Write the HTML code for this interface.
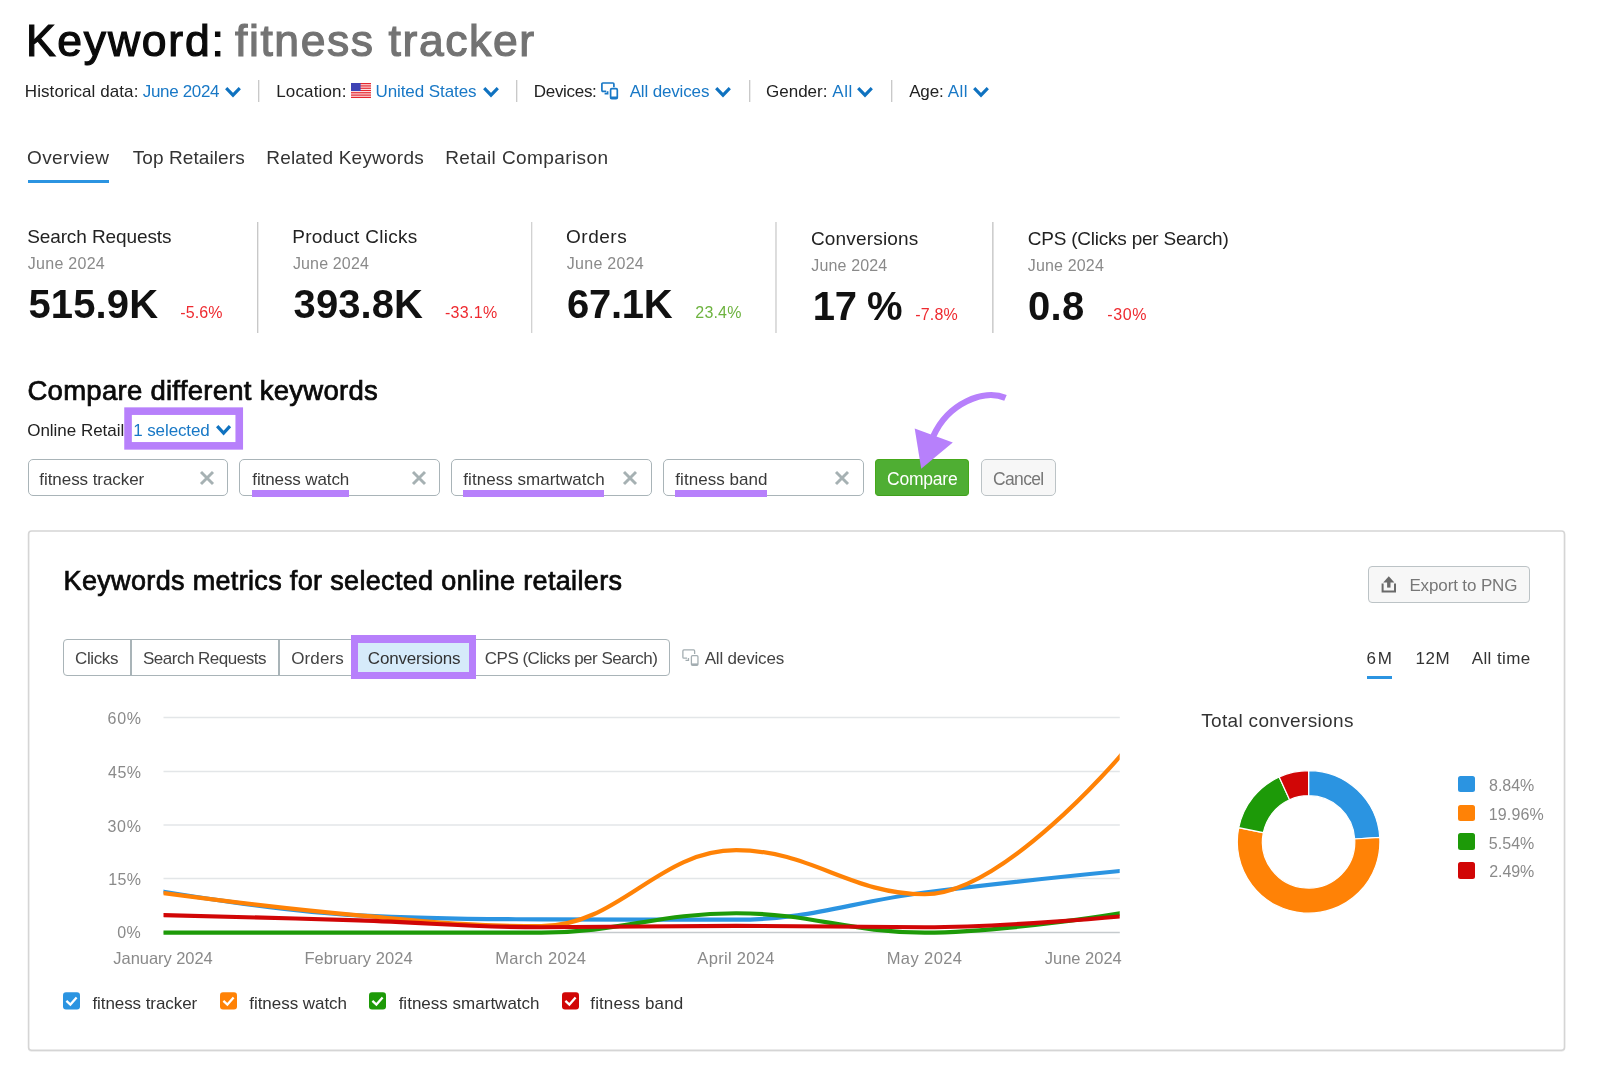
<!DOCTYPE html>
<html lang="en"><head><meta charset="utf-8"><title>Keyword: fitness tracker</title>
<style>
html,body{margin:0;padding:0;background:#fff;}
body{width:1600px;height:1078px;position:relative;overflow:hidden;font-family:"Liberation Sans",Arial,sans-serif;}
h1,h2,h3,label,a,span{margin:0;padding:0;font-weight:400;text-decoration:none;display:block;}
.t{position:absolute;white-space:nowrap;line-height:1;}
#root{position:absolute;left:0;top:0;width:1600px;height:1078px;will-change:transform;}
.b{position:absolute;box-sizing:border-box;}
.inp{position:absolute;box-sizing:border-box;border:1px solid #a9b4b8;border-radius:5px;background:#fff;height:37px;top:459px;}
.ul{position:absolute;background:#b780fb;height:7px;top:490px;}
svg{display:block;overflow:visible;}
</style></head><body>
<div id="root">
<header>
<h1><span class="t" id="t_kw" style="left:25.88px;top:19px;font-size:44.5px;-webkit-text-stroke:1.20px #0a0a0a;color:#0a0a0a;letter-spacing:1.779px">Keyword:</span>
<span class="t" id="t_ft" style="left:234.98px;top:19px;font-size:44.5px;-webkit-text-stroke:1.20px #737373;color:#737373;letter-spacing:1.583px">fitness tracker</span></h1>
<div class="filters">
<div class="b" style="left:258px;top:80px;width:2px;height:22px;background:linear-gradient(90deg,#c9c9c9 50%,#ececec 50%)"></div>
<div class="b" style="left:516px;top:80px;width:2px;height:22px;background:linear-gradient(90deg,#c9c9c9 50%,#ececec 50%)"></div>
<div class="b" style="left:749px;top:80px;width:2px;height:22px;background:linear-gradient(90deg,#c9c9c9 50%,#ececec 50%)"></div>
<div class="b" style="left:891px;top:80px;width:2px;height:22px;background:linear-gradient(90deg,#c9c9c9 50%,#ececec 50%)"></div>
<svg style="position:absolute;left:223.4px;top:85px" width="20" height="13.8" viewBox="-2 -2 20 13.8"><path d="M1.2 1.2 L8.0 8.200000000000001 L14.8 1.2" stroke="#0f72c0" stroke-width="3.1" fill="none" stroke-linejoin="miter"/></svg>
<svg style="position:absolute;left:480.6px;top:85px" width="20" height="13.8" viewBox="-2 -2 20 13.8"><path d="M1.2 1.2 L8.0 8.200000000000001 L14.8 1.2" stroke="#0f72c0" stroke-width="3.1" fill="none" stroke-linejoin="miter"/></svg>
<svg style="position:absolute;left:713.4px;top:85px" width="20" height="13.8" viewBox="-2 -2 20 13.8"><path d="M1.2 1.2 L8.0 8.200000000000001 L14.8 1.2" stroke="#0f72c0" stroke-width="3.1" fill="none" stroke-linejoin="miter"/></svg>
<svg style="position:absolute;left:855.4px;top:85px" width="20" height="13.8" viewBox="-2 -2 20 13.8"><path d="M1.2 1.2 L8.0 8.200000000000001 L14.8 1.2" stroke="#0f72c0" stroke-width="3.1" fill="none" stroke-linejoin="miter"/></svg>
<svg style="position:absolute;left:971.4px;top:85px" width="20" height="13.8" viewBox="-2 -2 20 13.8"><path d="M1.2 1.2 L8.0 8.200000000000001 L14.8 1.2" stroke="#0f72c0" stroke-width="3.1" fill="none" stroke-linejoin="miter"/></svg>
<svg style="position:absolute;left:351px;top:82.8px" width="20" height="15" viewBox="0 0 20 15"><rect width="20" height="15" fill="#fff"/><rect x="0" y="0.00" width="20" height="1.3" fill="#e6262f"/><rect x="0" y="2.29" width="20" height="1.3" fill="#e6262f"/><rect x="0" y="4.57" width="20" height="1.3" fill="#e6262f"/><rect x="0" y="6.86" width="20" height="1.3" fill="#e6262f"/><rect x="0" y="9.14" width="20" height="1.3" fill="#e6262f"/><rect x="0" y="11.43" width="20" height="1.3" fill="#e6262f"/><rect x="0" y="13.71" width="20" height="1.3" fill="#e6262f"/><rect x="0" y="0" width="9.6" height="8" fill="#3f43b5"/></svg>
<svg style="position:absolute;left:601.1px;top:82.3px" width="18.0" height="18.0" viewBox="0 0 18 18"><path d="M5.2 9.3 H1.9 Q0.9 9.3 0.9 8.3 V2 Q0.9 1 1.9 1 H11.9 Q12.9 1 12.9 2 V5.2" stroke="#1878c6" stroke-width="1.7" fill="none"/><path d="M3.6 11.6 H6.6 V9.3" stroke="#1878c6" stroke-width="1.7" fill="none"/><rect x="9.6" y="6.7" width="6.7" height="10" rx="1.2" stroke="#1878c6" stroke-width="1.7" fill="none"/><path d="M9.6 15.6 H16.3" stroke="#1878c6" stroke-width="2.2"/></svg>
<label class="t" id="f_hist" style="left:24.83px;top:83px;font-size:17px;color:#222;letter-spacing:0.073px">Historical data:</label>
<a class="t" id="f_june" style="left:142.73px;top:83px;font-size:17px;color:#1878c6;letter-spacing:-0.322px">June 2024</a>
<label class="t" id="f_loc" style="left:276.16px;top:83px;font-size:17px;color:#222;letter-spacing:0.156px">Location:</label>
<a class="t" id="f_us" style="left:375.45px;top:83px;font-size:17px;color:#1878c6;letter-spacing:-0.078px">United States</a>
<label class="t" id="f_dev" style="left:533.83px;top:83px;font-size:17px;color:#222;letter-spacing:-0.314px">Devices:</label>
<a class="t" id="f_alld" style="left:629.68px;top:83px;font-size:17px;color:#1878c6;letter-spacing:-0.155px">All devices</a>
<label class="t" id="f_gen" style="left:766.00px;top:83px;font-size:17px;color:#222;letter-spacing:0.000px">Gender:</label>
<a class="t" id="f_all1" style="left:832.22px;top:83px;font-size:17px;color:#1878c6;letter-spacing:0.569px">All</a>
<label class="t" id="f_age" style="left:909.22px;top:83px;font-size:17px;color:#222;letter-spacing:-0.191px">Age:</label>
<a class="t" id="f_all2" style="left:947.68px;top:83px;font-size:17px;color:#1878c6;letter-spacing:0.539px">All</a>
</div>
<nav>
<div class="b" style="left:28px;top:179.5px;width:81px;height:3.2px;background:#2b94e1"></div>
<a class="t" id="n_ov" style="left:27.00px;top:148px;font-size:19px;color:#333;letter-spacing:0.381px">Overview</a>
<a class="t" id="n_tr" style="left:132.78px;top:148px;font-size:19px;color:#333;letter-spacing:0.086px">Top Retailers</a>
<a class="t" id="n_rk" style="left:266.21px;top:148px;font-size:19px;color:#333;letter-spacing:0.219px">Related Keywords</a>
<a class="t" id="n_rc" style="left:445.21px;top:148px;font-size:19px;color:#333;letter-spacing:0.407px">Retail Comparison</a>
</nav>
</header>
<section class="stats">
<div class="b" style="left:257px;top:221.5px;width:2px;height:111.5px;background:linear-gradient(90deg,#c8c8c8 50%,#ebebeb 50%)"></div>
<div class="b" style="left:531px;top:221.5px;width:2px;height:111.5px;background:linear-gradient(90deg,#d2d2d2 50%,#f0f0f0 50%)"></div>
<div class="b" style="left:775px;top:221.5px;width:2px;height:111.5px;background:linear-gradient(90deg,#dcdcdc 50%,#dedede 50%)"></div>
<div class="b" style="left:992px;top:221.5px;width:2px;height:111.5px;background:linear-gradient(90deg,#cecece 50%,#e0e0e0 50%)"></div>
<div class="stat"><div class="t" id="s1_l" style="left:27.16px;top:227px;font-size:19px;color:#222;letter-spacing:-0.104px">Search Requests</div>
<div class="t" id="s1_d" style="left:27.83px;top:256px;font-size:16px;color:#8a8a8a;letter-spacing:0.274px">June 2024</div>
<div class="t" id="s1_v" style="left:28.50px;top:284px;font-size:40px;font-weight:700;color:#111;letter-spacing:0.117px">515.9K</div>
<div class="t" id="s1_p" style="left:180.37px;top:305px;font-size:16px;color:#ee2a30;letter-spacing:0.055px">-5.6%</div></div>
<div class="stat"><div class="t" id="s2_l" style="left:292.21px;top:227px;font-size:19px;color:#222;letter-spacing:0.285px">Product Clicks</div>
<div class="t" id="s2_d" style="left:292.92px;top:256px;font-size:16px;color:#8a8a8a;letter-spacing:0.148px">June 2024</div>
<div class="t" id="s2_v" style="left:293.55px;top:284px;font-size:40px;font-weight:700;color:#111;letter-spacing:0.095px">393.8K</div>
<div class="t" id="s2_p" style="left:444.88px;top:305px;font-size:16px;color:#ee2a30;letter-spacing:0.328px">-33.1%</div></div>
<div class="stat"><div class="t" id="s3_l" style="left:566.00px;top:227px;font-size:19px;color:#222;letter-spacing:0.523px">Orders</div>
<div class="t" id="s3_d" style="left:566.83px;top:256px;font-size:16px;color:#8a8a8a;letter-spacing:0.274px">June 2024</div>
<div class="t" id="s3_v" style="left:567.11px;top:284px;font-size:40px;font-weight:700;color:#111;letter-spacing:-0.322px">67.1K</div>
<div class="t" id="s3_p" style="left:695.30px;top:305px;font-size:16px;color:#6db33f;letter-spacing:0.183px">23.4%</div></div>
<div class="stat"><div class="t" id="s4_l" style="left:810.90px;top:229px;font-size:19px;color:#222;letter-spacing:0.179px">Conversions</div>
<div class="t" id="s4_d" style="left:811.22px;top:258px;font-size:16px;color:#8a8a8a;letter-spacing:0.157px">June 2024</div>
<div class="t" id="s4_v" style="left:812.85px;top:286px;font-size:40px;font-weight:700;color:#111;letter-spacing:-0.444px">17 %</div>
<div class="t" id="s4_p" style="left:915.37px;top:307px;font-size:16px;color:#ee2a30;letter-spacing:0.143px">-7.8%</div></div>
<div class="stat"><div class="t" id="s5_l" style="left:1027.72px;top:229px;font-size:19px;color:#222;letter-spacing:-0.221px">CPS (Clicks per Search)</div>
<div class="t" id="s5_d" style="left:1027.83px;top:258px;font-size:16px;color:#8a8a8a;letter-spacing:0.152px">June 2024</div>
<div class="t" id="s5_v" style="left:1028.12px;top:286px;font-size:40px;font-weight:700;color:#111;letter-spacing:0.260px">0.8</div>
<div class="t" id="s5_p" style="left:1107.37px;top:307px;font-size:16px;color:#ee2a30;letter-spacing:0.558px">-30%</div></div>
</section>
<section class="compare">
<svg style="position:absolute;left:120px;top:400px" width="130" height="56" viewBox="120 400 130 56"><rect x="128.05" y="411.15" width="111.2" height="34.7" fill="none" stroke="#b780fb" stroke-width="7.6"/></svg>
<svg style="position:absolute;left:213.8px;top:422.8px" width="19.2" height="13.8" viewBox="-2 -2 19.2 13.8"><path d="M1.2 1.2 L7.6 8.200000000000001 L14.0 1.2" stroke="#0f72c0" stroke-width="3.2" fill="none" stroke-linejoin="miter"/></svg>
<h2 class="t" id="c_h" style="left:27.43px;top:377px;font-size:27.5px;-webkit-text-stroke:0.74px #0a0a0a;color:#0a0a0a;letter-spacing:0.279px">Compare different keywords</h2>
<label class="t" id="c_or" style="left:27.26px;top:422px;font-size:17px;color:#222;letter-spacing:-0.033px">Online Retail</label>
<a class="t" id="c_sel" style="left:133.25px;top:422px;font-size:17px;color:#1878c6;letter-spacing:-0.106px">1 selected</a>
<div class="field">
<div class="inp" style="left:28px;width:200px"></div>
<svg style="position:absolute;left:199.7px;top:471.2px" width="14" height="14" viewBox="0 0 14 14"><path d="M1 1 L13 13 M13 1 L1 13" stroke="#a6b1b3" stroke-width="2.9" fill="none"/></svg>
<div class="t" id="i1" style="left:39.37px;top:471px;font-size:17px;color:#3a3a3a;letter-spacing:-0.071px">fitness tracker</div>
</div>
<div class="field">
<div class="inp" style="left:239px;width:201px"></div>
<div class="ul" style="left:251.7px;width:97.2px"></div>
<svg style="position:absolute;left:412px;top:471.2px" width="14" height="14" viewBox="0 0 14 14"><path d="M1 1 L13 13 M13 1 L1 13" stroke="#a6b1b3" stroke-width="2.9" fill="none"/></svg>
<div class="t" id="i2" style="left:252.28px;top:471px;font-size:17px;color:#3a3a3a;letter-spacing:-0.101px">fitness watch</div>
</div>
<div class="field">
<div class="inp" style="left:451px;width:200.5px"></div>
<div class="ul" style="left:463px;width:141.0px"></div>
<svg style="position:absolute;left:623.3px;top:471.2px" width="14" height="14" viewBox="0 0 14 14"><path d="M1 1 L13 13 M13 1 L1 13" stroke="#a6b1b3" stroke-width="2.9" fill="none"/></svg>
<div class="t" id="i3" style="left:463.37px;top:471px;font-size:17px;color:#3a3a3a;letter-spacing:0.027px">fitness smartwatch</div>
</div>
<div class="field">
<div class="inp" style="left:663px;width:201px"></div>
<div class="ul" style="left:675px;width:92.0px"></div>
<svg style="position:absolute;left:835.3px;top:471.2px" width="14" height="14" viewBox="0 0 14 14"><path d="M1 1 L13 13 M13 1 L1 13" stroke="#a6b1b3" stroke-width="2.9" fill="none"/></svg>
<div class="t" id="i4" style="left:675.37px;top:471px;font-size:17px;color:#3a3a3a;letter-spacing:0.039px">fitness band</div>
</div>
<div class="b" style="left:875px;top:459px;width:94.3px;height:37px;background:#4fae33;border-radius:4px;border:1px solid #45a81a;border-bottom:1.5px solid #3f9f1c"></div>
<div class="b" style="left:981px;top:459px;width:75px;height:37px;background:#f7f7f7;border:1px solid #bcc3c6;border-radius:5px"></div>
<span class="t" id="b_cmp" style="left:887.00px;top:471px;font-size:17.5px;color:#fff;letter-spacing:-0.222px">Compare</span>
<span class="t" id="b_can" style="left:993.00px;top:471px;font-size:17.5px;color:#777;letter-spacing:-0.647px">Cancel</span>
<svg style="position:absolute;left:900px;top:380px" width="120" height="100" viewBox="900 380 120 100"><path d="M1005.5 397.9 C983.7 388.5 948 403.5 933.4 436" stroke="#b780fb" stroke-width="6.2" fill="none"/><path d="M914.7 428.5 L952.8 442.6 L921.2 468.7 Z" fill="#b780fb"/></svg>
</section>
<section class="card">
<svg style="position:absolute;left:0;top:520px" width="1600" height="558" viewBox="0 520 1600 558"><rect x="28.6" y="531.9" width="1535.9" height="519.2" rx="3" fill="none" stroke="#efefef" stroke-width="1.6"/><rect x="28.6" y="531.0" width="1535.9" height="519.25" rx="3" fill="#fff" stroke="#d5d5d5" stroke-width="1.6"/></svg>
<div class="b" style="left:1368px;top:566px;width:161.7px;height:37px;background:#f7f7f7;border:1px solid #bcc3c6;border-radius:4px"></div>
<svg style="position:absolute;left:1380px;top:575px" width="18" height="19" viewBox="0 0 18 19"><path d="M2.6 8.6 V16.6 H15 V8.6" stroke="#6a6a6a" stroke-width="2" fill="none"/><path d="M8.8 12.6 V6" stroke="#6a6a6a" stroke-width="3.4"/><path d="M3.2 7.6 L8.8 1.2 L14.4 7.6 Z" fill="#6a6a6a"/></svg>
<h2 class="t" id="k_h" style="left:63.58px;top:568px;font-size:27px;-webkit-text-stroke:0.73px #0a0a0a;color:#0a0a0a;letter-spacing:0.337px">Keywords metrics for selected online retailers</h2>
<span class="t" id="k_exp" style="left:1409.39px;top:577px;font-size:17px;color:#777;letter-spacing:-0.123px">Export to PNG</span>
<div class="tabs">
<div class="b" style="left:63px;top:639px;width:607px;height:37px;border:1px solid #a9b4b8;border-radius:4px;background:#fff"></div>
<div class="b" style="left:130px;top:639px;width:2px;height:37px;background:#a9b4b8"></div>
<div class="b" style="left:278px;top:639px;width:2px;height:37px;background:#a9b4b8"></div>
<div class="b" style="left:351px;top:635px;width:125px;height:44px;border:7px solid #b780fb;border-top-width:8px;background:#d6ebfa"></div>
<svg style="position:absolute;left:681.6px;top:648.8px" width="17.64" height="17.64" viewBox="0 0 18 18"><path d="M5.2 9.3 H1.9 Q0.9 9.3 0.9 8.3 V2 Q0.9 1 1.9 1 H11.9 Q12.9 1 12.9 2 V5.2" stroke="#a3adb1" stroke-width="1.3" fill="none"/><path d="M3.6 11.6 H6.6 V9.3" stroke="#a3adb1" stroke-width="1.3" fill="none"/><rect x="9.6" y="6.7" width="6.7" height="10" rx="1.2" stroke="#a3adb1" stroke-width="1.3" fill="none"/><path d="M9.6 15.6 H16.3" stroke="#a3adb1" stroke-width="1.8"/></svg>
<div class="t" id="g_1" style="left:75.00px;top:650px;font-size:17px;color:#444;letter-spacing:-0.373px">Clicks</div>
<div class="t" id="g_2" style="left:143.00px;top:650px;font-size:17px;color:#444;letter-spacing:-0.500px">Search Requests</div>
<div class="t" id="g_3" style="left:291.26px;top:650px;font-size:17px;color:#444;letter-spacing:0.105px">Orders</div>
<div class="t" id="g_4" style="left:367.81px;top:650px;font-size:17px;color:#333;letter-spacing:-0.186px">Conversions</div>
<div class="t" id="g_5" style="left:484.81px;top:650px;font-size:17px;color:#444;letter-spacing:-0.504px">CPS (Clicks per Search)</div>
<div class="t" id="g_ad" style="left:704.68px;top:650px;font-size:17px;color:#444;letter-spacing:-0.176px">All devices</div>
</div>
<div class="range">
<div class="b" style="left:1366.8px;top:676px;width:25.2px;height:3px;background:#2b94e1"></div>
<div class="t" id="r_6m" style="left:1366.62px;top:650px;font-size:17px;color:#333;letter-spacing:1.728px">6M</div>
<div class="t" id="r_12" style="left:1415.52px;top:650px;font-size:17px;color:#333;letter-spacing:0.518px">12M</div>
<div class="t" id="r_all" style="left:1471.68px;top:650px;font-size:17px;color:#333;letter-spacing:0.414px">All time</div>
</div>
<div class="chart">
<svg width="1600" height="378" viewBox="0 700 1600 378" style="position:absolute;left:0;top:700px">
<path d="M163.5 717.5 H1119.8" stroke="#e3e6e8" stroke-width="1.4" fill="none"/>
<path d="M163.5 771.5 H1119.8" stroke="#e3e6e8" stroke-width="1.4" fill="none"/>
<path d="M163.5 825.0 H1119.8" stroke="#e3e6e8" stroke-width="1.4" fill="none"/>
<path d="M163.5 878.5 H1119.8" stroke="#e3e6e8" stroke-width="1.4" fill="none"/>
<path d="M163.5 932.5 H1119.8" stroke="#c5cacd" stroke-width="1.4" fill="none"/>
<clipPath id="plotclip"><rect x="163.5" y="700" width="956.2" height="240"/></clipPath><g clip-path="url(#plotclip)">
<path d="M163.70 891.75 C163.70 891.75 280.70 911.46 358.70 915.40 C431.70 919.34 468.20 918.98 541.20 919.34 C619.20 919.70 658.20 919.70 736.20 919.70 C811.68 919.70 849.42 902.05 924.90 892.47 C1002.94 882.56 1120.00 870.97 1120.00 870.97" stroke="#2b94e1" stroke-width="4.2" fill="none" stroke-linecap="square" stroke-linejoin="round"/>
<path d="M163.70 893.18 C163.70 893.18 280.70 908.59 358.70 915.40 C431.70 921.78 468.20 926.15 541.20 926.15 C619.20 926.15 658.20 850.18 736.20 850.18 C811.68 850.18 849.42 894.26 924.90 894.26 C1002.94 894.26 1120.00 756.30 1120.00 756.30" stroke="#ff8206" stroke-width="4.2" fill="none" stroke-linecap="square" stroke-linejoin="round"/>
<path d="M163.70 932.60 C163.70 932.60 280.70 932.60 358.70 932.60 C431.70 932.60 468.20 932.60 541.20 932.60 C619.20 932.60 658.20 913.25 736.20 913.25 C811.68 913.25 849.42 932.60 924.90 932.60 C1002.94 932.60 1120.00 913.25 1120.00 913.25" stroke="#1d9a08" stroke-width="4.2" fill="none" stroke-linecap="square" stroke-linejoin="round"/>
<path d="M163.70 915.04 C163.70 915.04 280.70 917.90 358.70 920.42 C431.70 922.77 468.20 927.23 541.20 927.23 C619.20 927.23 658.20 925.79 736.20 925.79 C811.68 925.79 849.42 927.23 924.90 927.23 C1002.94 927.23 1120.00 916.48 1120.00 916.48" stroke="#d10606" stroke-width="4.2" fill="none" stroke-linecap="square" stroke-linejoin="round"/>
</g>
<path d="M1308.60 770.60 A71.3 71.3 0 0 1 1379.76 837.43 L1354.71 839.01 A46.2 46.2 0 0 0 1308.60 795.70 Z" fill="#2b94e1" stroke="#fff" stroke-width="1.2"/>
<path d="M1379.76 837.43 A71.3 71.3 0 1 1 1238.73 827.67 L1263.33 832.68 A46.2 46.2 0 1 0 1354.71 839.01 Z" fill="#ff8206" stroke="#fff" stroke-width="1.2"/>
<path d="M1238.73 827.67 A71.3 71.3 0 0 1 1279.21 776.94 L1289.56 799.81 A46.2 46.2 0 0 0 1263.33 832.68 Z" fill="#1d9a08" stroke="#fff" stroke-width="1.2"/>
<path d="M1279.21 776.94 A71.3 71.3 0 0 1 1308.60 770.60 L1308.60 795.70 A46.2 46.2 0 0 0 1289.56 799.81 Z" fill="#d10606" stroke="#fff" stroke-width="1.2"/>
</svg>
<div class="t" id="y60" style="left:107.54px;top:711px;font-size:16px;color:#8a8a8a;letter-spacing:0.717px">60%</div>
<div class="t" id="y45" style="left:107.99px;top:765px;font-size:16px;color:#8a8a8a;letter-spacing:0.494px">45%</div>
<div class="t" id="y30" style="left:107.40px;top:819px;font-size:16px;color:#8a8a8a;letter-spacing:0.786px">30%</div>
<div class="t" id="y15" style="left:108.37px;top:872px;font-size:16px;color:#8a8a8a;letter-spacing:0.251px">15%</div>
<div class="t" id="y0" style="left:117.31px;top:925px;font-size:16px;color:#8a8a8a;letter-spacing:0.240px">0%</div>
<div class="t" id="x1" style="left:113.31px;top:950px;font-size:16.5px;color:#8a8a8a;letter-spacing:-0.045px">January 2024</div>
<div class="t" id="x2" style="left:304.44px;top:950px;font-size:16.5px;color:#8a8a8a;letter-spacing:0.068px">February 2024</div>
<div class="t" id="x3" style="left:495.15px;top:950px;font-size:16.5px;color:#8a8a8a;letter-spacing:0.403px">March 2024</div>
<div class="t" id="x4" style="left:697.33px;top:950px;font-size:16.5px;color:#8a8a8a;letter-spacing:0.318px">April 2024</div>
<div class="t" id="x5" style="left:886.72px;top:950px;font-size:16.5px;color:#8a8a8a;letter-spacing:0.407px">May 2024</div>
<div class="t" id="x6" style="left:1044.78px;top:950px;font-size:16.5px;color:#8a8a8a;letter-spacing:-0.014px">June 2024</div>
</div>
<div class="legend">
<svg style="position:absolute;left:63.3px;top:992.2px" width="17" height="18" viewBox="0 0 17 18"><rect x="0" y="0.2" width="17" height="17.4" rx="3" fill="#2b94e1"/><path d="M3.4 8.8 L7.4 12.6 L13.6 5.6" stroke="#fff" stroke-width="2.3" fill="none"/></svg>
<div class="t" id="l1" style="left:92.43px;top:995px;font-size:17px;color:#333;letter-spacing:-0.073px">fitness tracker</div>
<svg style="position:absolute;left:220px;top:992.2px" width="17" height="18" viewBox="0 0 17 18"><rect x="0" y="0.2" width="17" height="17.4" rx="3" fill="#ff8206"/><path d="M3.4 8.8 L7.4 12.6 L13.6 5.6" stroke="#fff" stroke-width="2.3" fill="none"/></svg>
<div class="t" id="l2" style="left:249.31px;top:995px;font-size:17px;color:#333;letter-spacing:-0.049px">fitness watch</div>
<svg style="position:absolute;left:369.3px;top:992.2px" width="17" height="18" viewBox="0 0 17 18"><rect x="0" y="0.2" width="17" height="17.4" rx="3" fill="#1d9a08"/><path d="M3.4 8.8 L7.4 12.6 L13.6 5.6" stroke="#fff" stroke-width="2.3" fill="none"/></svg>
<div class="t" id="l3" style="left:398.65px;top:995px;font-size:17px;color:#333;letter-spacing:0.009px">fitness smartwatch</div>
<svg style="position:absolute;left:561.6px;top:992.2px" width="17" height="18" viewBox="0 0 17 18"><rect x="0" y="0.2" width="17" height="17.4" rx="3" fill="#d10606"/><path d="M3.4 8.8 L7.4 12.6 L13.6 5.6" stroke="#fff" stroke-width="2.3" fill="none"/></svg>
<div class="t" id="l4" style="left:590.31px;top:995px;font-size:17px;color:#333;letter-spacing:0.112px">fitness band</div>
</div>
<div class="donut">
<h3 class="t" id="d_h" style="left:1201.18px;top:711px;font-size:19px;color:#333;letter-spacing:0.339px">Total conversions</h3>
<div class="b" style="left:1458px;top:775.8px;width:16.8px;height:16.6px;border-radius:2.5px;background:#2b94e1"></div>
<div class="t" id="d1" style="left:1489.10px;top:778px;font-size:16px;color:#8a8a8a;letter-spacing:-0.044px">8.84%</div>
<div class="b" style="left:1458px;top:804.6px;width:16.8px;height:16.6px;border-radius:2.5px;background:#ff8206"></div>
<div class="t" id="d2" style="left:1488.68px;top:807px;font-size:16px;color:#8a8a8a;letter-spacing:0.161px">19.96%</div>
<div class="b" style="left:1458px;top:833.4px;width:16.8px;height:16.6px;border-radius:2.5px;background:#1d9a08"></div>
<div class="t" id="d3" style="left:1488.86px;top:836px;font-size:16px;color:#8a8a8a;letter-spacing:0.008px">5.54%</div>
<div class="b" style="left:1458px;top:862.2px;width:16.8px;height:16.6px;border-radius:2.5px;background:#d10606"></div>
<div class="t" id="d4" style="left:1489.21px;top:864px;font-size:16px;color:#8a8a8a;letter-spacing:-0.079px">2.49%</div>
</div>
</section>
</div>
</body></html>
